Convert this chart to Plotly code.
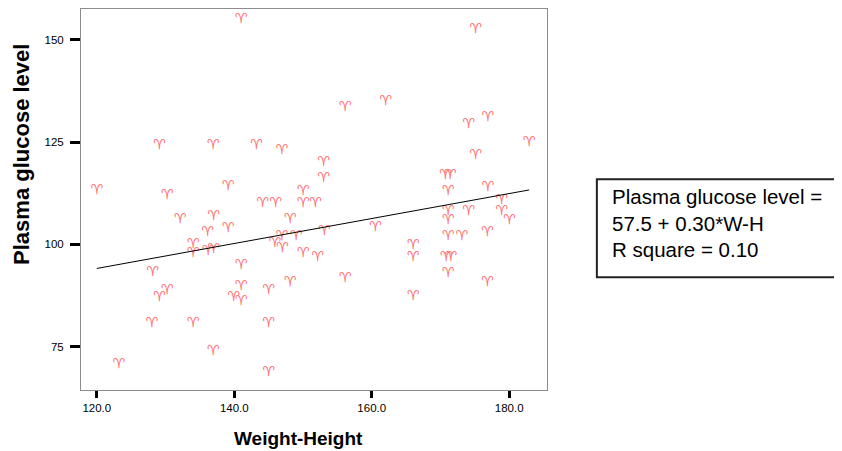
import plotly.graph_objects as go

# Weight-Height (x) and Plasma glucose level (y)
weight_height = [
    141.0, 175.1, 162.0, 156.1, 176.9, 174.1, 182.9, 129.1, 136.9, 143.2,
    146.9, 175.1, 153.0, 153.0, 170.7, 171.4, 120.0, 130.2, 139.1, 150.0,
    171.1, 176.9, 144.1, 146.0, 150.0, 151.8, 178.9, 132.1, 137.0, 148.1,
    171.1, 174.1, 178.9, 171.1, 180.0, 160.5, 136.1, 139.1, 153.1, 146.9,
    149.0, 171.1, 173.1, 176.8, 134.0, 134.0, 136.2, 137.0, 145.9, 147.0,
    150.0, 152.1, 166.0, 166.0, 170.8, 171.5, 171.1, 141.0, 128.1, 156.1,
    148.1, 176.8, 141.0, 145.0, 130.2, 129.1, 139.9, 141.0, 166.0, 128.0,
    134.0, 145.0, 136.9, 123.2, 145.0,
]
glucose = [
    155.0, 152.4, 135.0, 133.4, 131.0, 129.2, 124.9, 124.1, 124.1, 124.1,
    123.0, 121.8, 120.0, 116.0, 116.9, 116.9, 113.1, 111.9, 114.1, 113.0,
    113.0, 113.9, 110.0, 110.0, 110.0, 110.0, 110.8, 106.0, 106.9, 106.0,
    108.0, 108.0, 108.0, 105.9, 105.9, 104.0, 103.0, 103.9, 103.1, 101.9,
    101.9, 101.9, 101.9, 103.0, 100.0, 97.8, 98.2, 98.8, 100.1, 99.0,
    97.8, 96.9, 99.8, 96.9, 96.7, 96.7, 92.9, 94.8, 93.0, 91.7,
    90.7, 90.7, 89.6, 88.8, 88.8, 87.0, 87.0, 86.0, 87.2, 80.7,
    80.7, 80.7, 73.9, 70.7, 68.6,
]

# Fit line (as displayed: 57.5 + 0.30*W-H)
intercept = 57.5
slope = 0.305

x_ticks = [120, 140, 160, 180]
x_tick_labels = ["120.0", "140.0", "160.0", "180.0"]
y_ticks = [75, 100, 125, 150]
y_tick_labels = ["75", "100", "125", "150"]

fit_text = "Plasma glucose level =<br>57.5 + 0.30*W-H<br>R square = 0.10"

line_x = [min(weight_height), max(weight_height)]
line_y = [intercept + slope * v for v in line_x]

fig = go.Figure()
fig.add_trace(go.Scatter(
    x=weight_height, y=glucose, mode="text", text=["\u2648"] * len(glucose),
    textposition="middle center",
    textfont=dict(family="DejaVu Sans", size=14, color="#ff6e6e"),
    showlegend=False, hoverinfo="x+y",
))
fig.add_trace(go.Scatter(
    x=line_x, y=line_y, mode="lines",
    line=dict(color="black", width=1), showlegend=False,
))

axis_common = dict(
    showgrid=False, zeroline=False, showline=True, linecolor="#8c8c8c",
    linewidth=1, mirror=True, ticks="outside", tickcolor="black",
    tickwidth=3, tickfont=dict(family="Liberation Sans, Arial", size=11.5, color="black"),
)
fig.update_xaxes(range=[117.7, 185.5], tickvals=x_ticks, ticktext=x_tick_labels,
                 ticklen=7, **axis_common)
fig.update_yaxes(range=[64.4, 157.5], tickvals=y_ticks, ticktext=y_tick_labels,
                 ticklen=10, ticklabelstandoff=4, **axis_common)

# the page body adds an 8px offset, so the figure is sized to fit the window
fig.update_layout(
    width=834, height=443,
    margin=dict(l=73, r=295, t=1, b=61),
    paper_bgcolor="white", plot_bgcolor="white",
    shapes=[dict(type="rect", xref="paper", yref="paper",
                 x0=1.107, x1=1.629, y0=0.296, y1=0.553,
                 line=dict(color="#222222", width=2), fillcolor="white", layer="below")],
    annotations=[
        dict(text=fit_text, xref="paper", yref="paper", x=1.135, y=0.438,
             xanchor="left", yanchor="middle", align="left", showarrow=False,
             font=dict(family="Liberation Sans, Arial", size=20.5, color="black")),
        dict(text="<b>Weight-Height</b>", xref="paper", yref="paper", x=0.466, y=-0.1286,
             xanchor="center", yanchor="middle", showarrow=False,
             font=dict(family="Liberation Sans, Arial", size=19, color="black")),
        dict(text="<b>Plasma glucose level</b>", xref="paper", yref="paper", x=-0.1266, y=0.617,
             xanchor="center", yanchor="middle", textangle=-90, showarrow=False,
             font=dict(family="Liberation Sans, Arial", size=22, color="black")),
    ],
)

fig.write_html("out.html")
